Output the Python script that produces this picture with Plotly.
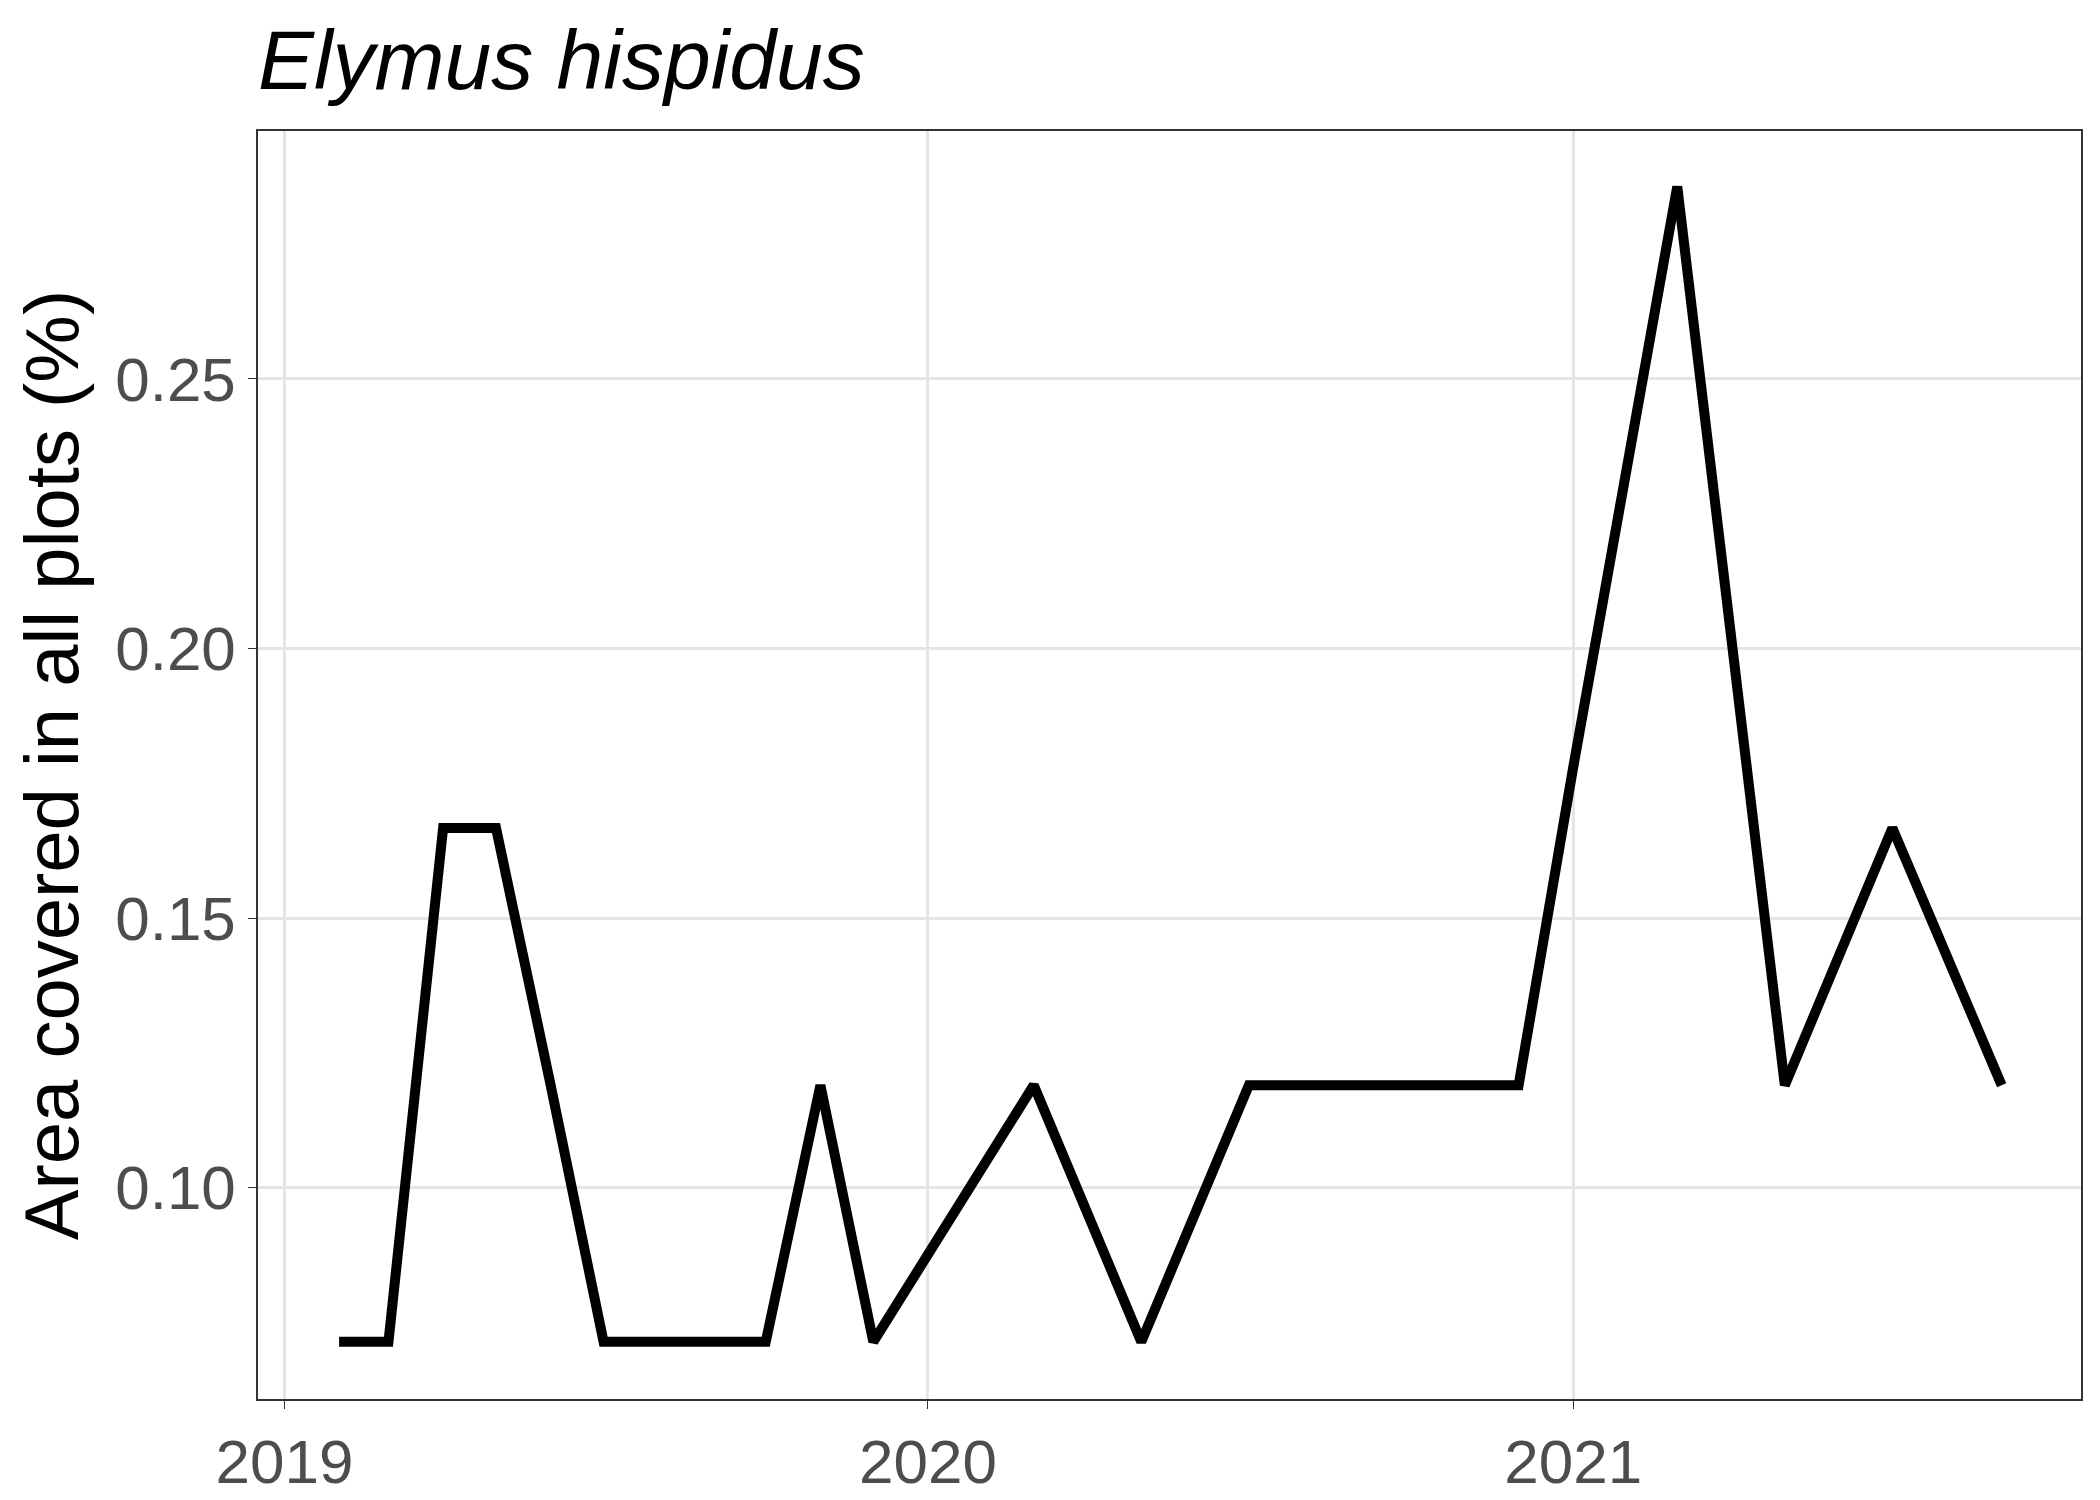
import plotly.graph_objects as go

# survey dates and cover values
dates = ["2019-02-01", "2019-03-01", "2019-04-01", "2019-05-01", "2019-06-01",
         "2019-07-01", "2019-10-01", "2019-11-01", "2019-12-01", "2020-03-01",
         "2020-05-01", "2020-07-01", "2020-12-01", "2021-01-01", "2021-03-01",
         "2021-05-01", "2021-07-01", "2021-09-01"]
cover = [0.0714, 0.0714, 0.1667, 0.1667, 0.119, 0.0714, 0.0714, 0.119, 0.0714,
         0.119, 0.0714, 0.119, 0.119, 0.178, 0.2857, 0.119, 0.1667, 0.119]

fig = go.Figure(go.Scatter(x=dates, y=cover, mode="lines",
                           line=dict(color="black", width=10)))

axis_common = dict(showline=True, mirror=True, linecolor="#333333", linewidth=1.5,
                   showgrid=True, gridcolor="#E5E5E5", gridwidth=2.5,
                   ticks="outside", ticklen=8, tickcolor="#333333",
                   tickfont=dict(size=62, color="#4D4D4D"), zeroline=False)

fig.update_layout(
    width=2100, height=1500,
    paper_bgcolor="white", plot_bgcolor="white",
    font=dict(family="Liberation Sans, Arial, sans-serif"),
    margin=dict(l=250, r=27, t=123, b=107),
    title=dict(text="<i>Elymus hispidus</i>", x=0.119, xanchor="left",
               y=0.985, yanchor="top", font=dict(size=84, color="black")),
    showlegend=False,
    xaxis=dict(range=["2018-12-17", "2021-10-16"], tickvals=["2019-01-01", "2020-01-01", "2021-01-01"],
               ticktext=["2019", "2020", "2021"], **axis_common),
    yaxis=dict(range=[0.0608, 0.296], tickvals=[0.10, 0.15, 0.20, 0.25], tickformat=".2f",
               title=dict(text="Area covered in all plots (%)", font=dict(size=76, color="black"), standoff=12),
               **axis_common),
)

fig.write_html("out.html")
